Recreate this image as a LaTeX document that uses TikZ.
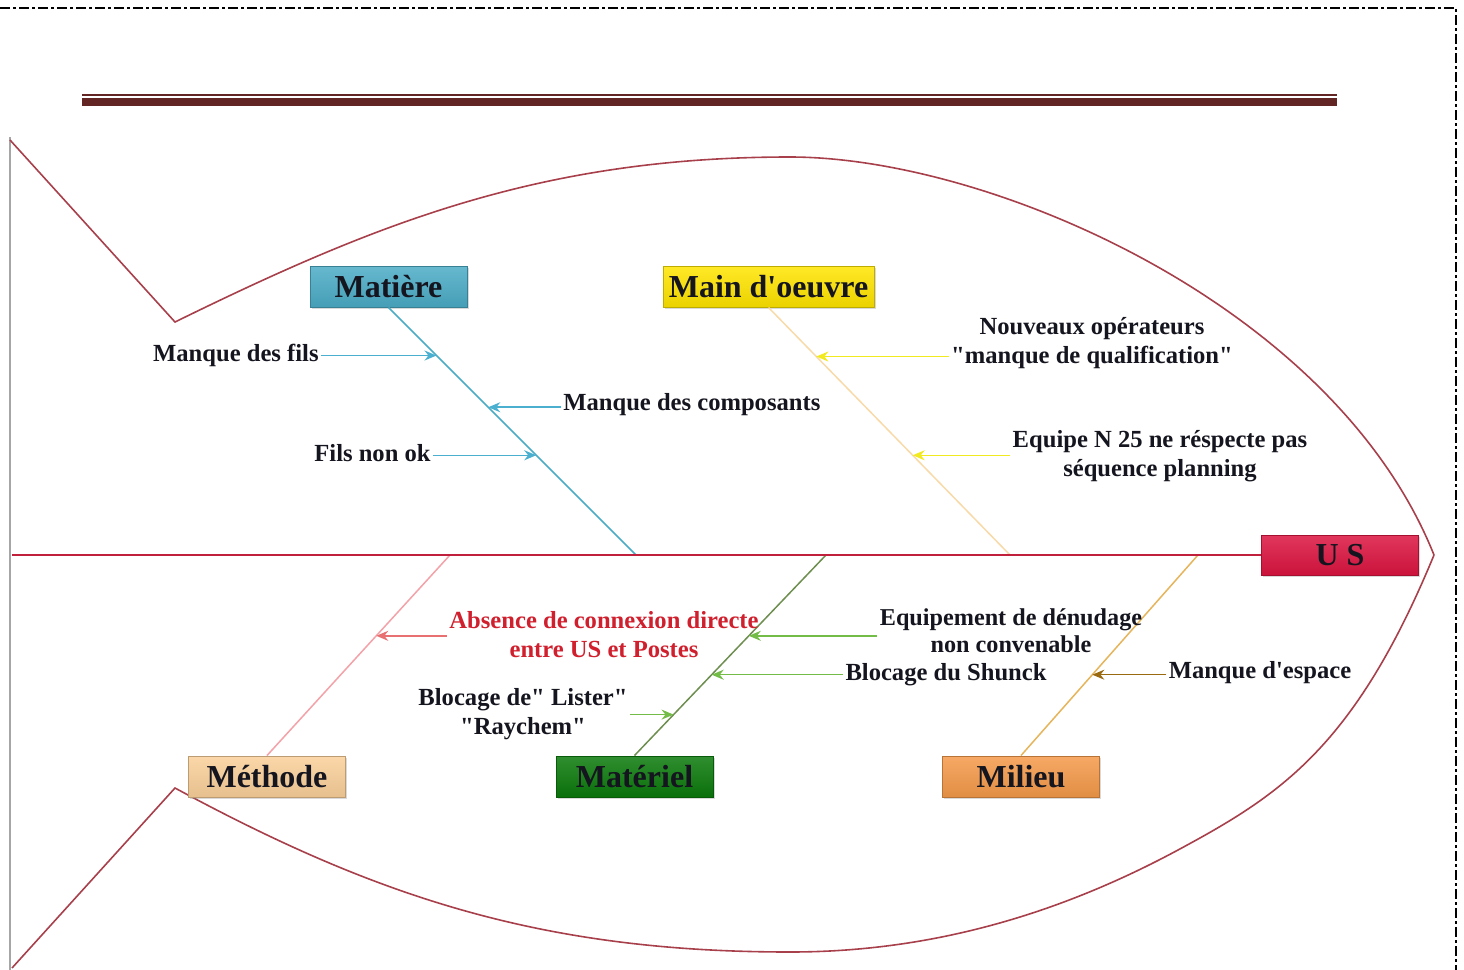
\documentclass[tikz,border=0pt]{standalone}
\usepackage{fontspec}
\setmainfont{Liberation Serif}
\newfontfamily\libser{Liberation Serif}
\usetikzlibrary{arrows.meta,shadows,calc}
\definecolor{matc}{HTML}{4BACC6}
\definecolor{moc}{HTML}{FFE500}
\definecolor{methc}{HTML}{FAD09A}
\definecolor{matlc}{HTML}{0B7A0B}
\definecolor{milc}{HTML}{F59A4A}
\definecolor{usc}{HTML}{DC1440}
\definecolor{spinec}{HTML}{C0203C}
\definecolor{fishc}{HTML}{A8404C}
\definecolor{txtdark}{HTML}{15151F}
\definecolor{barc}{HTML}{632424}
\definecolor{boneMO}{HTML}{F8D9A8}
\definecolor{boneMeth}{HTML}{F2A2A8}
\definecolor{boneMatl}{HTML}{6E8E50}
\definecolor{boneMil}{HTML}{E6B45A}
\definecolor{arMat}{HTML}{4BB0D0}
\definecolor{arMO}{HTML}{F2EA20}
\definecolor{arMeth}{HTML}{E87070}
\definecolor{arMatl}{HTML}{74BC48}
\definecolor{arMil}{HTML}{9A6A10}
\definecolor{redtxt}{HTML}{D0202E}
\begin{document}
\begin{tikzpicture}[x=0.5pt,y=-0.5pt,
  catbox/.style={draw=#1!75!black, line width=0.5pt, top color=#1!85!white, bottom color=#1!92!black,
    minimum width=78.5pt, minimum height=20.5pt, inner sep=0pt,
    font=\libser\bfseries\fontsize{16}{18}\selectfont, text=txtdark,
    drop shadow={shadow xshift=0.8pt, shadow yshift=-0.8pt, opacity=0.3}},
  lbl/.style={font=\libser\bfseries\fontsize{12.3}{14.5}\selectfont, text=txtdark, inner sep=1pt, align=center},
  tight/.style={font=\libser\bfseries\fontsize{12.1}{13.3}\selectfont},
  bone/.style={draw=#1, line width=0.75pt},
  arr/.style={draw=#1, line width=0.75pt, -{Stealth[length=6pt,width=5pt]}},
  fish/.style={draw=fishc, line width=0.8pt, line join=miter}
]
\useasboundingbox (0,0) rectangle (1464,970);

% page decorations
\draw[black, line width=1pt, dash pattern=on 5pt off 1.5pt on 1.5pt off 1.5pt] (0,8) -- (1456,8) -- (1456,970);
\fill[barc] (82,94) rectangle (1337,96.2);
\fill[barc] (82,97.5) rectangle (1337,106);
\draw[gray!70, line width=1pt] (10,137) -- (10,970);

% fish outline
\draw[fish] (10,140) -- (175,322)
  .. controls (375,224) and (540,157) .. (790,157)
  .. controls (990,157) and (1334,305) .. (1434,555);
\draw[fish] (12,968) -- (175,788)
  .. controls (375,896) and (540,952) .. (790,952)
  .. controls (920,952) and (1048,920) .. (1178,850)
  .. controls (1278,796) and (1354,749) .. (1434,555);

% category boxes
\node[catbox=matc] (mat) at (388.5,286.5) {Matière};
\node[catbox=moc, minimum width=105.5pt] (mo) at (768.5,286.5) {Main d'oeuvre};
\node[catbox=methc] (meth) at (267,776.5) {Méthode};
\node[catbox=matlc] (matl) at (634.5,776.5) {Matériel};
\node[catbox=milc] (mil) at (1021,776.5) {Milieu};
\node[catbox=usc, minimum height=20pt] (us) at (1340,555) {U S};

% spine points
\coordinate (tailS) at (12,555);
\coordinate (sMat) at (636,555);
\coordinate (sMO) at (1010,555);
\coordinate (sMeth) at (450,555);
\coordinate (sMatl) at (826,555);
\coordinate (sMil) at (1198,555);

% bones
\draw[bone=matc] (mat.south) -- (sMat);
\draw[bone=boneMO] (mo.south) -- (sMO);
\draw[bone=boneMeth] (meth.north) -- (sMeth);
\draw[bone=boneMatl] (matl.north) -- (sMatl);
\draw[bone=boneMil] (mil.north) -- (sMil);
\draw[draw=spinec, line width=1pt] (tailS) -- (us.west);

% arrow end points on bones
\coordinate (cFils) at ($(mat.south)!0.194!(sMat)$);
\coordinate (cComp) at ($(mat.south)!0.403!(sMat)$);
\coordinate (cFnok) at ($(mat.south)!0.597!(sMat)$);
\coordinate (cNouv) at ($(mo.south)!0.198!(sMO)$);
\coordinate (cEquipe) at ($(mo.south)!0.597!(sMO)$);
\coordinate (cAbs) at ($(meth.north)!0.597!(sMeth)$);
\coordinate (cEquip) at ($(matl.north)!0.597!(sMatl)$);
\coordinate (cShunck) at ($(matl.north)!0.403!(sMatl)$);
\coordinate (cLister) at ($(matl.north)!0.204!(sMatl)$);
\coordinate (cEsp) at ($(mil.north)!0.403!(sMil)$);

% labels
\node[lbl, anchor=east] (fils) at (321,355) {Manque des fils};
\node[lbl, anchor=west] (comp) at (561,405) {Manque des composants};
\node[lbl, anchor=east] (fnok) at (433,453) {Fils non ok};
\node[lbl] (nouv) at (1092,343) {Nouveaux opérateurs\\"manque de qualification"};
\node[lbl] (equipe) at (1160,456) {Equipe N 25 ne réspecte pas\\séquence planning};
\node[lbl, text=redtxt] (abs) at (604,635) {Absence de connexion directe\\entre US et Postes};
\node[lbl, tight] (equip) at (1011,631) {Equipement de dénudage\\non convenable};
\node[lbl] (shunck) at (946,675) {Blocage du Shunck};
\node[lbl] (lister) at (523,714) {Blocage de" Lister"\\"Raychem"};
\node[lbl] (esp) at (1260,673) {Manque d'espace};

% arrows
\draw[arr=arMat] (fils.east |- cFils) -- (cFils);
\draw[arr=arMat] (comp.west |- cComp) -- (cComp);
\draw[arr=arMat] (fnok.east |- cFnok) -- (cFnok);
\draw[arr=arMO] (nouv.west |- cNouv) -- (cNouv);
\draw[arr=arMO] (equipe.west |- cEquipe) -- (cEquipe);
\draw[arr=arMeth] (abs.west |- cAbs) -- (cAbs);
\draw[arr=arMatl] (equip.west |- cEquip) -- (cEquip);
\draw[arr=arMatl] (shunck.west |- cShunck) -- (cShunck);
\draw[arr=arMatl] (lister.east |- cLister) -- (cLister);
\draw[arr=arMil] (esp.west |- cEsp) -- (cEsp);
\end{tikzpicture}
\end{document}
